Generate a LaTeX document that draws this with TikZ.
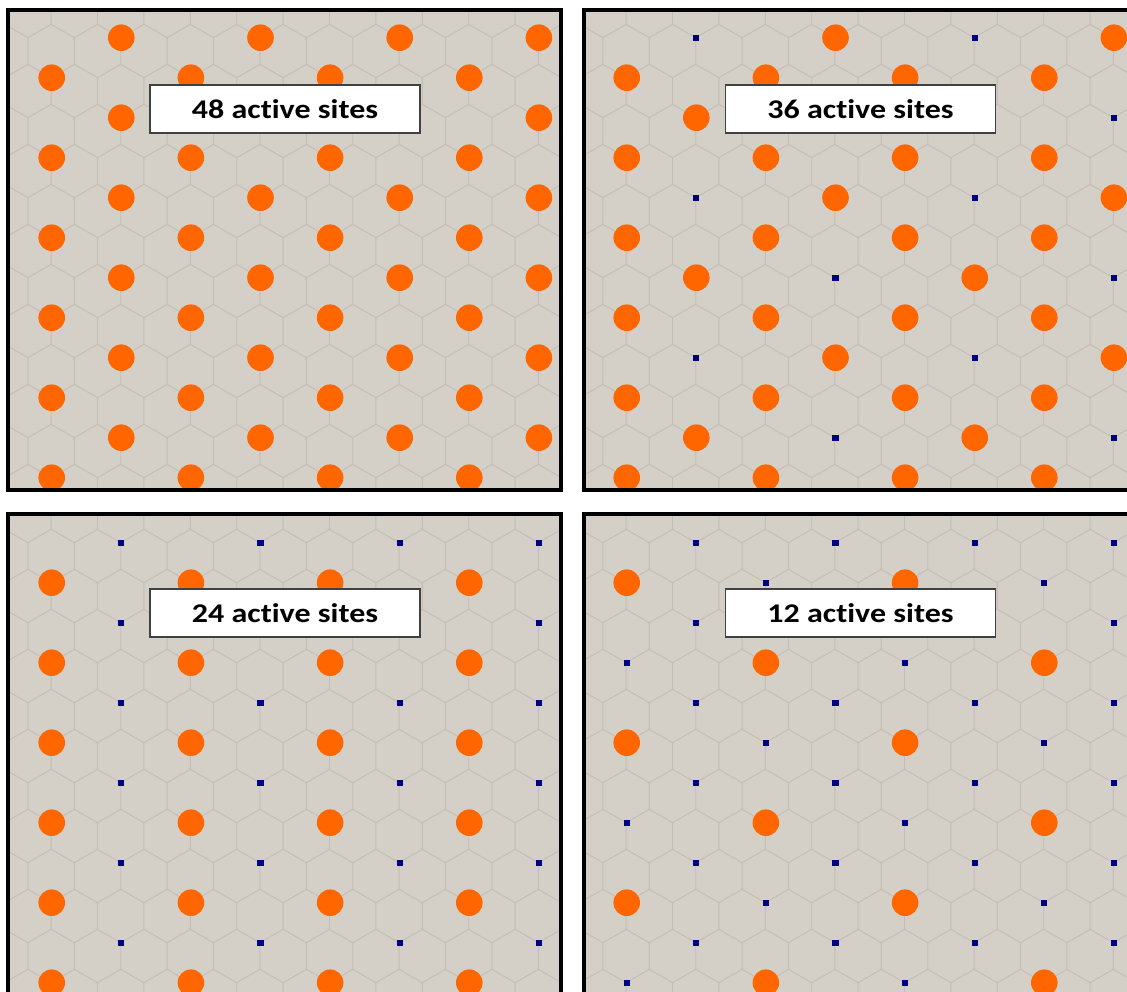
\documentclass[tikz,border=0pt]{standalone}
\usepackage{graphicx}
\usepackage{fontspec}
\setmainfont{Carlito}[Ligatures={NoCommon}]
\definecolor{panelbg}{RGB}{212,208,200}
\definecolor{hexline}{RGB}{194,190,183}
\definecolor{siteon}{RGB}{255,102,0}
\definecolor{siteoff}{RGB}{0,0,128}
\tikzset{
  hexgrid/.style={draw=hexline, line width=0.9pt},
  panelframe/.style={draw=black, line width=4pt},
  panelfill/.style={fill=panelbg},
  activesite/.style={fill=siteon},
  idlesite/.style={fill=siteoff},
  labelbox/.style={draw=black!75, fill=white, line width=1.3pt,
    minimum width=270pt, minimum height=48pt, inner sep=0pt,
    font=\bfseries\fontsize{27}{30}\selectfont},
}
\newcommand{\boxtext}[1]{\scalebox{1.185}[1]{#1}}
\newcommand{\hexfield}{%
  \foreach \n in {0,...,14}{%
    \foreach \k in {-3,...,10}{%
      \pgfmathsetmacro{\cx}{120.7+46.4*\k+23.2*mod(\n+1,2)}%
      \pgfmathsetmacro{\cy}{-29+40*\n}%
      \draw[hexgrid] ({\cx-23.2},{\cy+13.33}) -- ({\cx-23.2},{\cy-13.33})
        -- (\cx,{\cy-26.67}) -- ({\cx+23.2},{\cy-13.33});
    }%
  }%
}
\newcommand{\sitefield}[1]{%
  \foreach \i in {0,...,11}{%
    \foreach \j in {0,...,7}{%
      \pgfmathtruncatemacro{\isodd}{mod(\i+\j,2)}%
      \ifnum\isodd=1
        \pgfmathtruncatemacro{\on}{#1}%
        \pgfmathsetmacro{\sx}{51.7+69.6*\j}%
        \pgfmathsetmacro{\sy}{37.7+40*\i}%
        \ifnum\on=1
          \fill[activesite] (\sx,\sy) circle[radius=13.3];
        \else
          \fill[idlesite] ({\sx-3.15},{\sy-3.15}) rectangle ({\sx+3.15},{\sy+3.15});
        \fi
      \fi
    }%
  }%
}
\begin{document}
\begin{tikzpicture}[x=1pt,y=-1pt]
\clip (0,0) rectangle (1127,991);
\fill[white] (0,0) rectangle (1127,991);
% panel 1
\begin{scope}
  \begin{scope}
    \clip (8,9.5) rectangle (561,489.5);
    \fill[panelfill] (8,9.5) rectangle (561,489.5);
    \hexfield
    \sitefield{1}
  \end{scope}
  \draw[panelframe] (8,9.5) rectangle (561,489.5);
  \node[labelbox] (lab1) at (285,109) {\boxtext{48 active sites}};
\end{scope}
% panel 2
\begin{scope}[shift={(575,0)}]
  \begin{scope}
    \clip (8.5,9.5) rectangle (561,489.5);
    \fill[panelfill] (8.5,9.5) rectangle (561,489.5);
    \hexfield
    \sitefield{mod(\i,2)==1 ? 1 : mod(\i/2+(\j-1)/2,2)}
  \end{scope}
  \draw[panelframe] (8.5,9.5) rectangle (561,489.5);
  \node[labelbox] (lab2) at (285.5,109) {\boxtext{36 active sites}};
\end{scope}
% panel 3
\begin{scope}[shift={(0,505)}]
  \begin{scope}
    \clip (8,9) rectangle (561,489.5);
    \fill[panelfill] (8,9) rectangle (561,489.5);
    \hexfield
    \sitefield{mod(\i,2)}
  \end{scope}
  \draw[panelframe] (8,9) rectangle (561,489.5);
  \node[labelbox] (lab3) at (285,108) {\boxtext{24 active sites}};
\end{scope}
% panel 4
\begin{scope}[shift={(575,505)}]
  \begin{scope}
    \clip (8.5,9) rectangle (561,489.5);
    \fill[panelfill] (8.5,9) rectangle (561,489.5);
    \hexfield
    \sitefield{mod(\i,2)==1 ? 1-mod((\i-1)/2+\j/2,2) : 0}
  \end{scope}
  \draw[panelframe] (8.5,9) rectangle (561,489.5);
  \node[labelbox] (lab4) at (285.5,108) {\boxtext{12 active sites}};
\end{scope}
\end{tikzpicture}
\end{document}
